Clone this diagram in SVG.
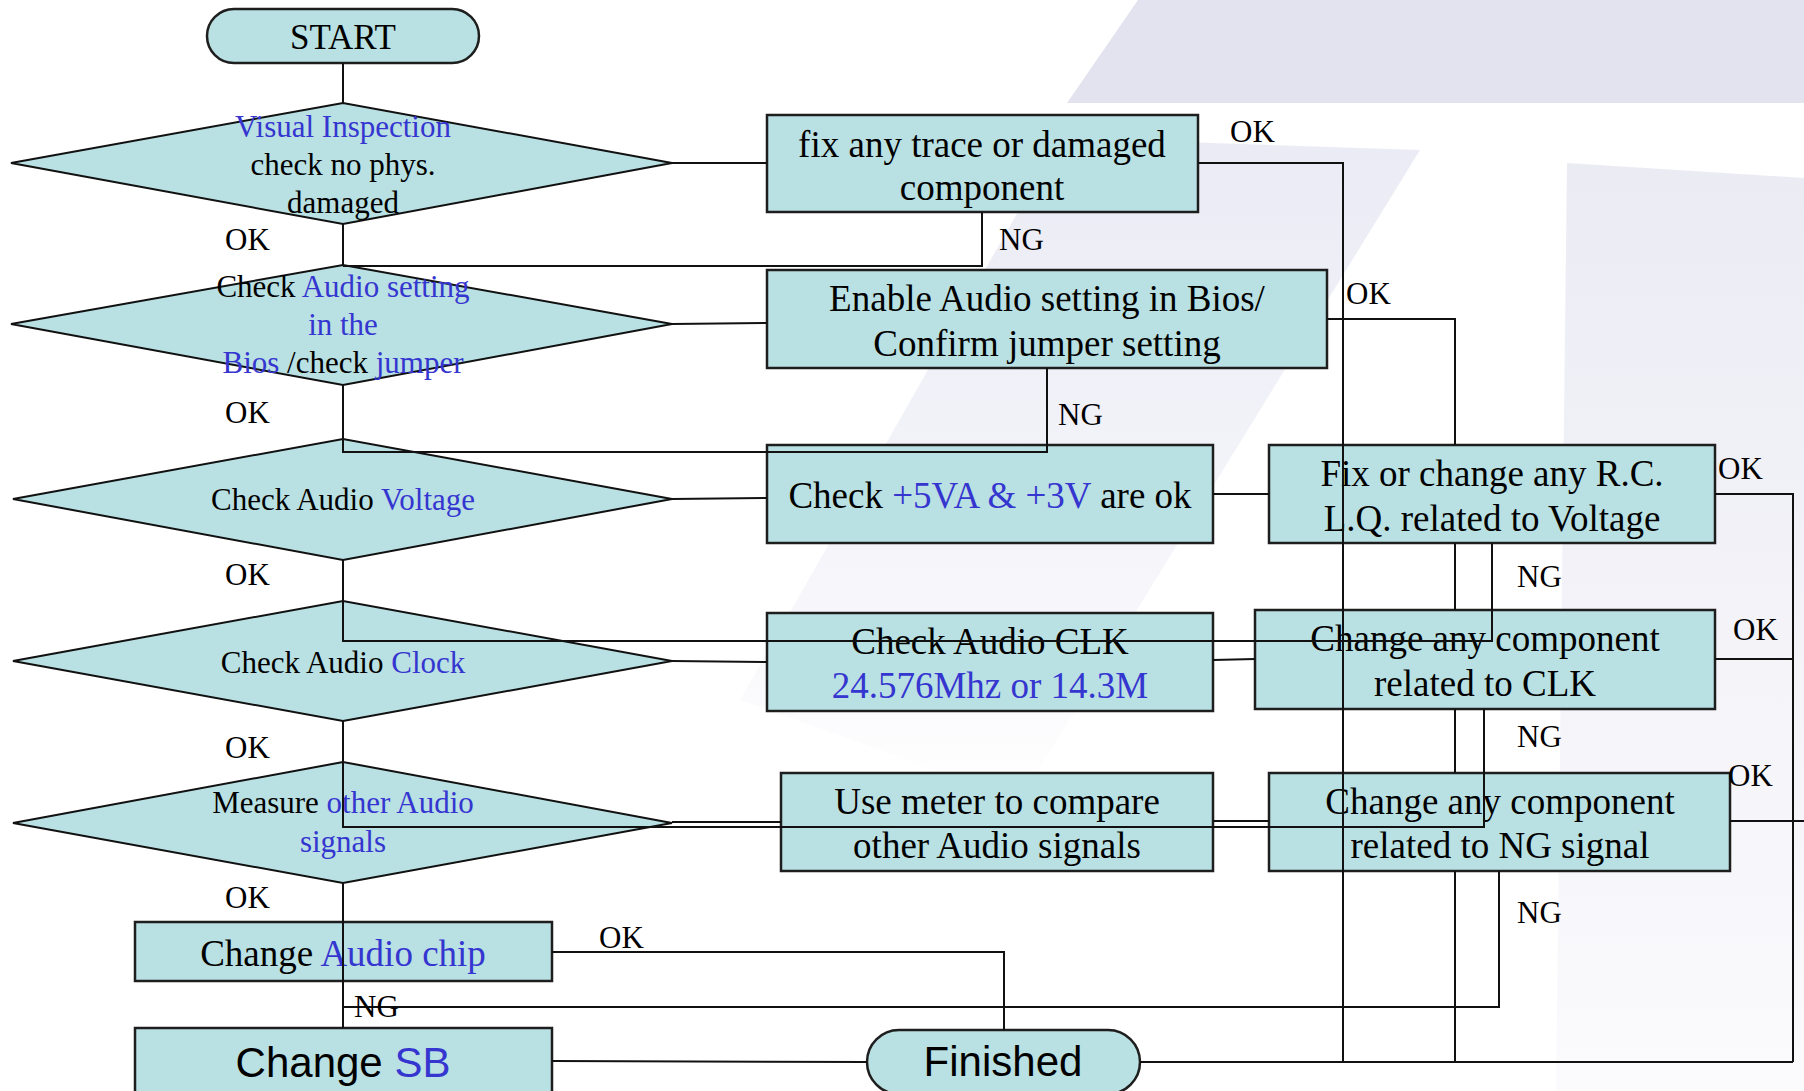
<svg xmlns="http://www.w3.org/2000/svg" width="1804" height="1091" viewBox="0 0 1804 1091">
<style>
.node{fill:#b9e0e3;stroke:#1e1e1e;stroke-width:2.5}
.dia{fill:#b9e0e3;stroke:#111;stroke-width:2}
.con{fill:none;stroke:#111;stroke-width:2}
.t{font-family:"Liberation Serif","Times New Roman",serif;fill:#000}
.box{font-size:37px}
.dt{font-size:31px}
.lb{font-size:31px;font-family:"Liberation Serif","Times New Roman",serif;fill:#000}
.s{font-family:"Liberation Sans",Arial,sans-serif;font-size:42px;fill:#000}
.b{fill:#3535d0}
</style>
<defs>
<linearGradient id="wm2" x1="0" y1="0" x2="0" y2="1">
<stop offset="0" stop-color="#ebebf5"/>
<stop offset="0.6" stop-color="#f4f4fa"/>
<stop offset="1" stop-color="#ffffff"/>
</linearGradient>
<linearGradient id="wm3" x1="0" y1="0" x2="0" y2="1">
<stop offset="0" stop-color="#ebebf4"/>
<stop offset="1" stop-color="#fbfbfd"/>
</linearGradient>
</defs>
<rect width="1804" height="1091" fill="#fff"/>
<g id="watermark">
<polygon points="1138,0 1804,0 1804,103 1067,103" fill="#e3e3f0"/>
<polygon points="1060,138 1420,150 1020,800 740,700" fill="url(#wm2)"/>
<polygon points="1567,163 1804,178 1804,1091 1556,1091" fill="url(#wm3)"/>
</g>

<g id="n_start"><rect class="node" x="207" y="9" width="272" height="54" rx="27"/><text class="t" x="343" y="49" font-size="35" text-anchor="middle">START</text></g>

<g id="d1"><polygon class="dia" points="11,163 343,103 672,163 343,224"/>
<text class="t dt" text-anchor="middle"><tspan x="343" y="137" class="b">Visual Inspection</tspan><tspan x="343" y="175">check no phys.</tspan><tspan x="343" y="213">damaged</tspan></text></g>

<g id="d2"><polygon class="dia" points="11,324 343,265 672,324 343,385"/>
<text class="t dt" text-anchor="middle"><tspan x="343" y="297">Check <tspan class="b">Audio setting</tspan></tspan><tspan x="343" y="335" class="b">in the</tspan><tspan x="343" y="373"><tspan class="b">Bios</tspan> /check <tspan class="b">jumper</tspan></tspan></text></g>

<g id="d3"><polygon class="dia" points="13,499 343,439 672,499 343,560"/>
<text class="t dt" x="343" y="510" text-anchor="middle">Check Audio <tspan class="b">Voltage</tspan></text></g>

<g id="d4"><polygon class="dia" points="13,661 343,601 672,661 343,721"/>
<text class="t dt" x="343" y="673" text-anchor="middle">Check Audio <tspan class="b">Clock</tspan></text></g>

<g id="d5"><polygon class="dia" points="13,823 343,762 672,823 343,883"/>
<text class="t dt" text-anchor="middle"><tspan x="343" y="813">Measure <tspan class="b">other Audio</tspan></tspan><tspan x="343" y="852" class="b">signals</tspan></text></g>

<g id="n_fix"><rect class="node" x="767" y="115" width="431" height="97"/>
<text class="t box" text-anchor="middle"><tspan x="982" y="157">fix any trace or damaged</tspan><tspan x="982" y="200">component</tspan></text></g>

<g id="n_enable"><rect class="node" x="767" y="270" width="560" height="98"/>
<text class="t box" text-anchor="middle"><tspan x="1047" y="311">Enable Audio setting in Bios/</tspan><tspan x="1047" y="356">Confirm jumper setting</tspan></text></g>

<g id="n_check"><rect class="node" x="767" y="445" width="446" height="98"/>
<text class="t box" x="990" y="508" text-anchor="middle">Check <tspan class="b">+5VA &amp; +3V</tspan> are ok</text></g>

<g id="n_rc"><rect class="node" x="1269" y="445" width="446" height="98"/>
<text class="t box" text-anchor="middle"><tspan x="1492" y="486">Fix or change any R.C.</tspan><tspan x="1492" y="531">L.Q. related to Voltage</tspan></text></g>

<g id="n_clk"><rect class="node" x="767" y="613" width="446" height="98"/>
<text class="t box" text-anchor="middle"><tspan x="990" y="654">Check Audio CLK</tspan><tspan x="990" y="698" class="b">24.576Mhz or 14.3M</tspan></text></g>

<g id="n_chclk"><rect class="node" x="1255" y="610" width="460" height="99"/>
<text class="t box" text-anchor="middle"><tspan x="1485" y="651">Change any component</tspan><tspan x="1485" y="696">related to CLK</tspan></text></g>

<g id="n_meter"><rect class="node" x="781" y="773" width="432" height="98"/>
<text class="t box" text-anchor="middle"><tspan x="997" y="814">Use meter to compare</tspan><tspan x="997" y="858">other Audio signals</tspan></text></g>

<g id="n_chng"><rect class="node" x="1269" y="773" width="461" height="98"/>
<text class="t box" text-anchor="middle"><tspan x="1500" y="814">Change any component</tspan><tspan x="1500" y="858">related to NG signal</tspan></text></g>

<g id="n_chip"><rect class="node" x="135" y="922" width="417" height="59"/>
<text class="t box" x="343" y="966" text-anchor="middle">Change <tspan class="b">Audio chip</tspan></text></g>

<g id="n_sb"><rect class="node" x="135" y="1028" width="417" height="72"/>
<text class="s" x="343" y="1077" text-anchor="middle">Change <tspan class="b">SB</tspan></text></g>

<g id="n_finished"><rect class="node" x="867" y="1030" width="273" height="64" rx="32"/>
<text class="s" x="1003" y="1076" text-anchor="middle">Finished</text></g>

<g id="connectors">
<path class="con" d="M343,63V103"/>
<path class="con" d="M343,224V265"/>
<path class="con" d="M343,385V439"/>
<path class="con" d="M343,560V601"/>
<path class="con" d="M343,721V762"/>
<path class="con" d="M343,883V1028"/>
<path class="con" d="M672,163H767"/>
<path class="con" d="M672,324L767,323"/>
<path class="con" d="M672,499L767,498"/>
<path class="con" d="M672,661L767,662"/>
<path class="con" d="M672,822H781"/>
<path class="con" d="M982,212V266H343"/>
<path class="con" d="M1047,368V452H343V439"/>
<path class="con" d="M1198,163H1343V1062"/>
<path class="con" d="M1327,319H1455V445M1455,543V610M1455,709V773M1455,871V1062"/>
<path class="con" d="M1213,494H1269"/>
<path class="con" d="M1715,494H1793V1062"/>
<path class="con" d="M1492,543V641H343V601"/>
<path class="con" d="M1213,660L1255,659"/>
<path class="con" d="M1715,659H1793"/>
<path class="con" d="M1484,709V827H343V762"/>
<path class="con" d="M1213,821H1269"/>
<path class="con" d="M1730,821H1804"/>
<path class="con" d="M1499,871V1007H343"/>
<path class="con" d="M552,952H1004V1030"/>
<path class="con" d="M552,1061L867,1062"/>
<path class="con" d="M1140,1062H1793"/>
</g>

<g id="labels">
<text class="lb" x="225" y="250">OK</text>
<text class="lb" x="225" y="423">OK</text>
<text class="lb" x="225" y="585">OK</text>
<text class="lb" x="225" y="758">OK</text>
<text class="lb" x="225" y="908">OK</text>
<text class="lb" x="1230" y="142">OK</text>
<text class="lb" x="999" y="250">NG</text>
<text class="lb" x="1346" y="304">OK</text>
<text class="lb" x="1058" y="425">NG</text>
<text class="lb" x="1718" y="479">OK</text>
<text class="lb" x="1517" y="587">NG</text>
<text class="lb" x="1733" y="640">OK</text>
<text class="lb" x="1517" y="747">NG</text>
<text class="lb" x="1728" y="786">OK</text>
<text class="lb" x="1517" y="923">NG</text>
<text class="lb" x="599" y="948">OK</text>
<text class="lb" x="354" y="1017">NG</text>
</g>
</svg>
